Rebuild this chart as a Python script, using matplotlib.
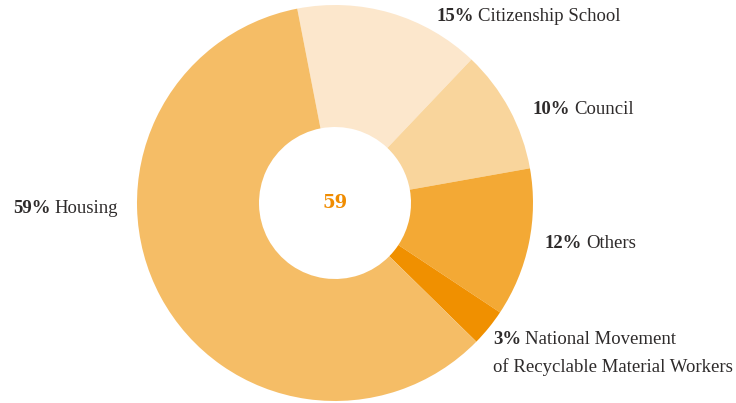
import matplotlib
matplotlib.use("Agg")
import matplotlib.pyplot as plt

# Share of participants by area of activity
categories = ["Citizenship School", "Council", "Others",
              "National Movement\nof Recyclable Material Workers", "Housing"]
values = [15, 10, 12, 3, 59]
colors = ["#FCE7CC", "#F9D59C", "#F3A935", "#F09000", "#F5BD66"]
center_value = values[categories.index("Housing")]

W, H, DPI = 736, 403, 100
cx, cy, R = 335, 203, 198  # pixel centre and outer radius

fig = plt.figure(figsize=(W / DPI, H / DPI), dpi=DPI)
ax = fig.add_axes([0, 0, 1, 1])

ax.pie(values, colors=colors, startangle=101, counterclock=False,
       radius=1.0, wedgeprops=dict(width=1.0 - 76 / R, linewidth=0))

ax.set_xlim(-cx / R, (W - cx) / R)
ax.set_ylim(-(H - cy) / R, cy / R)
ax.set_aspect("equal")
ax.axis("off")

ax.text(0, 0, str(center_value), ha="center", va="center",
        fontsize=13, fontweight="bold", color="#F08C00",
        family="DejaVu Serif")

txt_color = "#2E2B2B"
font = "Liberation Serif"
fs = 13.5

def to_data(px, py):
    return ((px - cx) / R, (cy - py) / R)

# label anchors (pixels): (x, baseline y, alignment)
label_pos = [(436, 21, "left"), (533, 114, "left"), (545, 248, "left"),
             (493, 344, "left"), (118, 213, "right")]

for name, val, (px, py, align) in zip(categories, values, label_pos):
    x, y = to_data(px, py)
    first, *rest = name.split("\n")
    pct = f"{val}%"
    if align == "left":
        t1 = ax.text(x, y, pct, ha="left", va="baseline", fontsize=fs,
                     fontweight="bold", color=txt_color, family=font)
        ax.annotate(first, xy=(1, 0), xycoords=t1, xytext=(3, 0),
                    textcoords="offset points", ha="left", va="bottom",
                    fontsize=fs, color=txt_color, family=font)
        for i, line in enumerate(rest, start=1):
            x2, y2 = to_data(px, py + 28 * i)
            ax.text(x2, y2, line, ha="left", va="baseline", fontsize=fs,
                    color=txt_color, family=font)
    else:
        t1 = ax.text(x, y, first, ha="right", va="baseline", fontsize=fs,
                     color=txt_color, family=font)
        ax.annotate(pct, xy=(0, 0), xycoords=t1, xytext=(-3, 0),
                    textcoords="offset points", ha="right", va="bottom",
                    fontsize=fs, fontweight="bold", color=txt_color,
                    family=font)

fig.savefig("out.png", dpi=DPI, facecolor="white")
